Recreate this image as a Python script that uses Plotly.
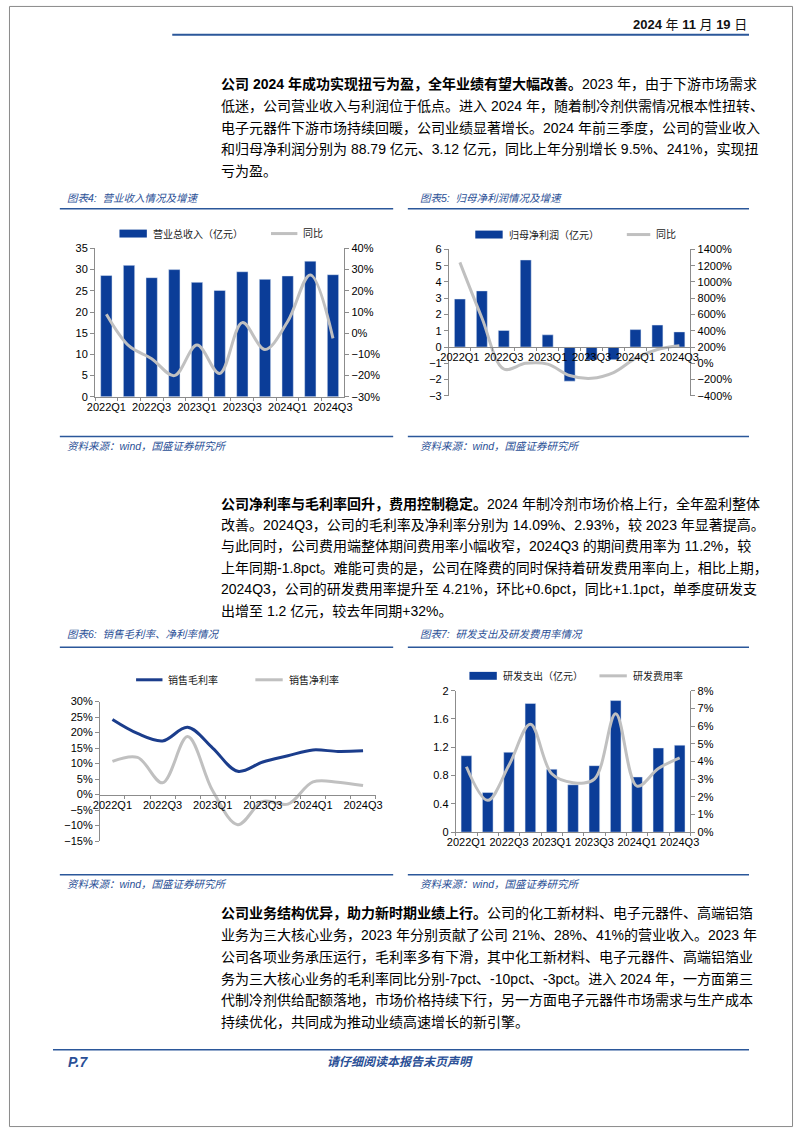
import plotly.graph_objects as go

# ---------------- data ----------------
quarters = ["2022Q1", "2022Q2", "2022Q3", "2022Q4", "2023Q1", "2023Q2",
            "2023Q3", "2023Q4", "2024Q1", "2024Q2", "2024Q3"]
tick_text = [q if i % 2 == 0 else "" for i, q in enumerate(quarters)]

revenue = [28.6, 31.0, 28.1, 30.0, 27.0, 25.1, 29.5, 27.7, 28.5, 32.0, 28.8]
revenue_yoy = [9.0, -6.0, -12.0, -20.0, -5.6, -19.0, 5.0, -7.7, 5.5, 27.5, -2.4]

net_profit = [2.95, 3.45, 1.02, 5.35, 0.75, -2.1, -0.8, -0.78, 1.07, 1.35, 0.93]
net_profit_yoy = [1240, 560, -70, 0, -10, -150, -185, -115, 60, 170, 215]

gross_margin = [24.2, 19.7, 17.3, 21.7, 15.0, 7.5, 10.5, 12.5, 14.4, 13.9, 14.1]
net_margin = [10.7, 12.0, 3.8, 18.7, 1.2, -9.7, -2.2, -3.1, 4.1, 4.0, 2.9]

rd_spend = [1.08, 0.56, 1.13, 1.82, 0.89, 0.67, 0.94, 1.86, 0.78, 1.19, 1.23]
rd_rate = [3.7, 1.8, 3.8, 6.1, 3.3, 2.8, 3.0, 6.7, 2.6, 3.6, 4.2]

rd_left_ticks = [0, 0.4, 0.8, 1.2, 1.6, 2]
rd_left_text = ["0", "0.4", "0.8", "1.2", "1.6", "2"]

# ---------------- style ----------------
W, H = 802, 1133
BLUE = "#0B3D98"
LINE_BLUE = "#1B3D8C"
GRAY = "#C0C0C0"
AXIS = "#8C8C8C"
TITLE_BLUE = "#2A4F96"
RULE_BLUE = "#2B579A"
TICK_FONT = dict(family="Liberation Sans, Noto Sans CJK SC", size=11, color="#000")
CJK = "Liberation Sans, Noto Sans CJK SC"


def px(x):
    return x / W


def py(y):
    return 1 - y / H


fig = go.Figure()

# chart 4
fig.add_trace(go.Bar(x=quarters, y=revenue, marker_color=BLUE, xaxis="x", yaxis="y"))
fig.add_trace(go.Scatter(x=quarters, y=revenue_yoy, mode="lines",
                         line=dict(color=GRAY, width=3, shape="spline", smoothing=1),
                         xaxis="x", yaxis="y2"))
# chart 5
fig.add_trace(go.Bar(x=quarters, y=net_profit, marker_color=BLUE, xaxis="x2", yaxis="y3"))
fig.add_trace(go.Scatter(x=quarters, y=net_profit_yoy, mode="lines",
                         line=dict(color=GRAY, width=3, shape="spline", smoothing=1),
                         xaxis="x2", yaxis="y4"))
# chart 6
fig.add_trace(go.Scatter(x=quarters, y=gross_margin, mode="lines",
                         line=dict(color=LINE_BLUE, width=3, shape="spline", smoothing=1),
                         xaxis="x3", yaxis="y5"))
fig.add_trace(go.Scatter(x=quarters, y=net_margin, mode="lines",
                         line=dict(color=GRAY, width=3, shape="spline", smoothing=1),
                         xaxis="x3", yaxis="y5"))
# chart 7
fig.add_trace(go.Bar(x=quarters, y=rd_spend, marker_color=BLUE, xaxis="x4", yaxis="y6"))
fig.add_trace(go.Scatter(x=quarters, y=rd_rate, mode="lines",
                         line=dict(color=GRAY, width=3, shape="spline", smoothing=1),
                         xaxis="x4", yaxis="y7"))

common_x = dict(type="category", tickvals=quarters, ticktext=tick_text, tickson="boundaries",
                ticks="outside", ticklen=3, tickcolor=AXIS, showline=True, linecolor=AXIS,
                linewidth=1, showgrid=False, zeroline=False, tickfont=TICK_FONT,
                tickangle=0, range=[-0.5, 10.5])
common_y = dict(showline=True, linecolor=AXIS, linewidth=1, ticks="outside", ticklen=4,
                tickcolor=AXIS, showgrid=False, zeroline=False, tickfont=TICK_FONT)

# chart domains (px)
c4x = (88, 343); c4y = (245, 395)
c5x = (450, 697); c5y = (246, 394)
c6x = (93, 375); c6y = (703, 844)
c7x = (457, 697); c7y = (692, 835)

c5_zero = py(c5y[1]) + (py(c5y[0]) - py(c5y[1])) * 3 / 9
c6_zero = py(c6y[1]) + (py(c6y[0]) - py(c6y[1])) * 15 / 45

fig.update_layout(
    xaxis=dict(common_x, domain=[px(c4x[0]), px(c4x[1])], anchor="y"),
    yaxis=dict(common_y, domain=[py(c4y[1]), py(c4y[0])], range=[0, 35], dtick=5, anchor="x"),
    yaxis2=dict(common_y, overlaying="y", side="right", range=[-30, 40], dtick=10,
                ticksuffix="%", anchor="x"),
    xaxis2=dict(common_x, domain=[px(c5x[0]), px(c5x[1])], anchor="free", position=c5_zero),
    yaxis3=dict(common_y, domain=[py(c5y[1]), py(c5y[0])], range=[-3, 6], dtick=1, anchor="x2"),
    yaxis4=dict(common_y, overlaying="y3", side="right", range=[-400, 1400], dtick=200,
                ticksuffix="%", anchor="x2"),
    xaxis3=dict(common_x, domain=[px(c6x[0]), px(c6x[1])], anchor="free", position=c6_zero),
    yaxis5=dict(common_y, domain=[py(c6y[1]), py(c6y[0])], range=[-15, 30], dtick=5,
                ticksuffix="%", anchor="x3"),
    xaxis4=dict(common_x, domain=[px(c7x[0]), px(c7x[1])], anchor="y6"),
    yaxis6=dict(common_y, domain=[py(c7y[1]), py(c7y[0])], range=[0, 2], tickvals=rd_left_ticks,
                ticktext=rd_left_text, anchor="x4"),
    yaxis7=dict(common_y, overlaying="y6", side="right", range=[0, 8], dtick=1,
                ticksuffix="%", anchor="x4"),
)

fig.update_layout(width=W, height=H, margin=dict(l=0, r=0, t=0, b=0),
                  paper_bgcolor="white", plot_bgcolor="rgba(0,0,0,0)",
                  showlegend=False, bargap=0.5, hovermode=False)

shapes = []
annotations = []


def hline(x0, x1, y, color=RULE_BLUE, width=1.5):
    shapes.append(dict(type="line", xref="paper", yref="paper", x0=px(x0), x1=px(x1),
                       y0=py(y), y1=py(y), line=dict(color=color, width=width)))


def text(x, y, s, size=14, color="#000", anchor="left", family=CJK):
    annotations.append(dict(xref="paper", yref="paper", x=px(x), y=py(y), text=s,
                            showarrow=False, xanchor=anchor, yanchor="middle",
                            font=dict(family=family, size=size, color=color)))


def legend_box(x0, x1, y, label):
    shapes.append(dict(type="rect", xref="paper", yref="paper", x0=px(x0), x1=px(x1),
                       y0=py(y + 4), y1=py(y - 4), fillcolor=BLUE, line=dict(width=0)))
    text(x1 + 4, y, label, size=10, color="#222")


def legend_line(x0, x1, y, label, color):
    shapes.append(dict(type="line", xref="paper", yref="paper", x0=px(x0), x1=px(x1),
                       y0=py(y), y1=py(y), line=dict(color=color, width=3)))
    text(x1 + 4, y, label, size=10, color="#222")


# page border
shapes.append(dict(type="rect", xref="paper", yref="paper", x0=0.0006, x1=0.9994,
                   y0=0.0004, y1=0.9996, line=dict(color="#8a8a8a", width=1)))

# header
text(757, 19, "<b>2024</b> 年 <b>11</b> 月 <b>19</b> 日", size=13, anchor="right", color="#111")
hline(167, 757, 29, width=2)

# paragraph 1
p1 = [
    "<b>公司 2024 年成功实现扭亏为盈，全年业绩有望大幅改善。</b>2023 年，由于下游市场需求",
    "低迷，公司营业收入与利润位于低点。进入 2024 年，随着制冷剂供需情况根本性扭转、",
    "电子元器件下游市场持续回暖，公司业绩显著增长。2024 年前三季度，公司的营业收入",
    "和归母净利润分别为 88.79 亿元、3.12 亿元，同比上年分别增长 9.5%、241%，实现扭",
    "亏为盈。",
]
for i, s in enumerate(p1):
    text(215, 79 + i * 22, s)

p2 = [
    "<b>公司净利率与毛利率回升，费用控制稳定。</b>2024 年制冷剂市场价格上行，全年盈利整体",
    "改善。2024Q3，公司的毛利率及净利率分别为 14.09%、2.93%，较 2023 年显著提高。",
    "与此同时，公司费用端整体期间费用率小幅收窄，2024Q3 的期间费用率为 11.2%，较",
    "上年同期-1.8pct。难能可贵的是，公司在降费的同时保持着研发费用率向上，相比上期，",
    "2024Q3，公司的研发费用率提升至 4.21%，环比+0.6pct，同比+1.1pct，单季度研发支",
    "出增至 1.2 亿元，较去年同期+32%。",
]
for i, s in enumerate(p2):
    text(215, 503 + i * 21.6, s)

p3 = [
    "<b>公司业务结构优异，助力新时期业绩上行。</b>公司的化工新材料、电子元器件、高端铝箔",
    "业务为三大核心业务，2023 年分别贡献了公司 21%、28%、41%的营业收入。2023 年",
    "公司各项业务承压运行，毛利率多有下滑，其中化工新材料、电子元器件、高端铝箔业",
    "务为三大核心业务的毛利率同比分别-7pct、-10pct、-3pct。进入 2024 年，一方面第三",
    "代制冷剂供给配额落地，市场价格持续下行，另一方面电子元器件市场需求与生产成本",
    "持续优化，共同成为推动业绩高速增长的新引擎。",
]
for i, s in enumerate(p3):
    text(215, 917 + i * 22, s)

# chart titles, rules, sources
text(57, 194, "<i>图表4:  营业收入情况及增速</i>", size=10.5, color=TITLE_BLUE)
text(418, 194, "<i>图表5:  归母净利润情况及增速</i>", size=10.5, color=TITLE_BLUE)
hline(52, 393, 205)
hline(408, 757, 205)
hline(52, 393, 435)
hline(408, 757, 435)
text(57, 445, "<i>资料来源：wind，国盛证券研究所</i>", size=10.5, color=TITLE_BLUE)
text(418, 445, "<i>资料来源：wind，国盛证券研究所</i>", size=10.5, color=TITLE_BLUE)

text(57, 635, "<i>图表6:  销售毛利率、净利率情况</i>", size=10.5, color=TITLE_BLUE)
text(418, 635, "<i>图表7:  研发支出及研发费用率情况</i>", size=10.5, color=TITLE_BLUE)
hline(52, 393, 648)
hline(408, 757, 648)
hline(52, 393, 878)
hline(408, 757, 878)
text(57, 887, "<i>资料来源：wind，国盛证券研究所</i>", size=10.5, color=TITLE_BLUE)
text(418, 887, "<i>资料来源：wind，国盛证券研究所</i>", size=10.5, color=TITLE_BLUE)

# legends
legend_box(113, 141, 230, "营业总收入（亿元）")
legend_line(268, 295, 230, "同比", GRAY)
legend_box(477, 505, 231, "归母净利润（亿元）")
legend_line(632, 656, 231, "同比", GRAY)
legend_line(130, 157, 681, "销售毛利率", LINE_BLUE)
legend_line(252, 280, 681, "销售净利率", GRAY)
legend_box(471, 499, 677, "研发支出（亿元）")
legend_line(604, 632, 677, "研发费用率", GRAY)

# footer
hline(45, 757, 1055, width=1.5)
text(58, 1067, "<b><i>P.7</i></b>", size=14, color=TITLE_BLUE)
text(400, 1067, "<b><i>请仔细阅读本报告末页声明</i></b>", size=12, color=TITLE_BLUE, anchor="center")

fig.update_layout(shapes=shapes, annotations=annotations)
fig.write_html("out.html", config={"displayModeBar": False, "staticPlot": True},
               post_script="document.body.style.margin='0';document.body.style.overflow='hidden';")
